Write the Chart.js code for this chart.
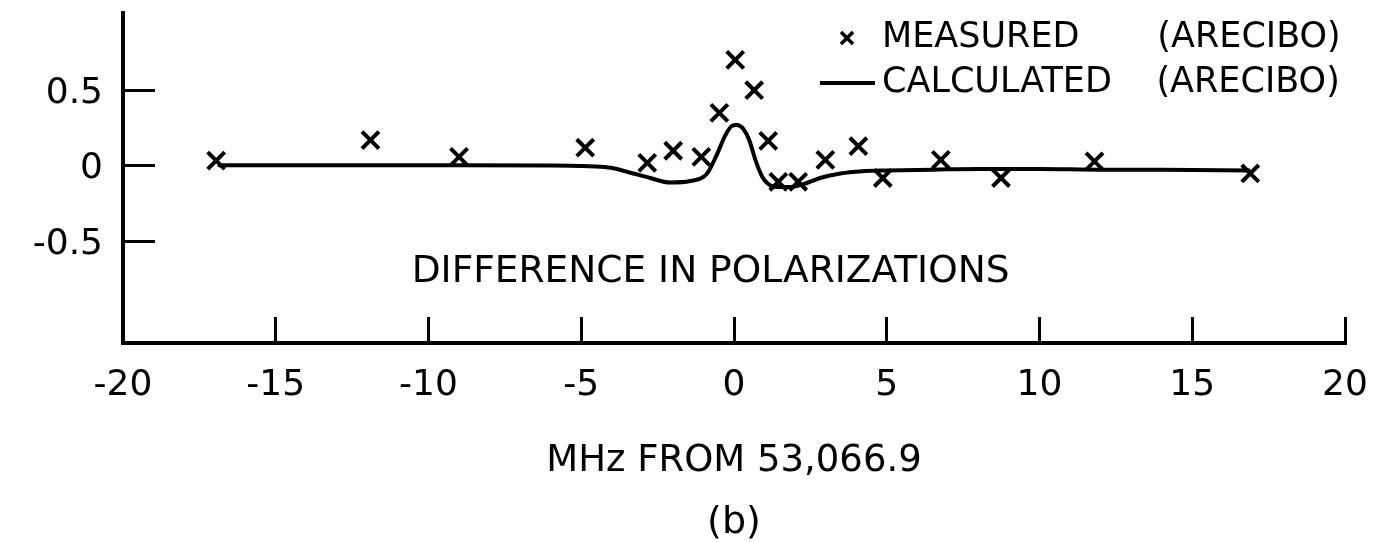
<!DOCTYPE html>
<html>
<head>
<meta charset="utf-8">
<script src="https://cdn.jsdelivr.net/npm/chart.js@4/dist/chart.umd.min.js"></script>
<style>
  html, body { margin: 0; padding: 0; background: #fff; }
  #wrap { width: 1377px; height: 542px; }
</style>
</head>
<body>
<div id="wrap"><canvas id="hello"></canvas></div>
<script>
// measured points (x marks)
const measuredX = [-16.95, -11.9, -9.0, -4.87, -2.84, -1.99, -1.07, -0.48, 0.04, 0.66, 1.12, 1.45, 2.1, 2.99, 4.07, 4.87, 6.77, 8.74, 11.8, 16.9];
const measuredY = [0.035, 0.17, 0.06, 0.12, 0.02, 0.10, 0.06, 0.35, 0.70, 0.50, 0.165, -0.105, -0.105, 0.04, 0.13, -0.08, 0.04, -0.08, 0.03, -0.05];

// calculated curve
const calcX = [-16.9, -14, -12, -9, -6, -5, -4.4, -3.95, -3.3, -2.74, -2.09, -1.43, -0.88, -0.55, -0.29, -0.06, 0.1, 0.3, 0.5, 0.7, 0.92, 1.12, 1.41, 1.84, 2.27, 2.82, 3.48, 4.2, 5, 6.5, 8, 10, 12, 14, 16.9];
const calcY = [0.005, 0.005, 0.005, 0.005, 0.003, 0, -0.005, -0.015, -0.05, -0.08, -0.11, -0.10, -0.05, 0.08, 0.20, 0.265, 0.27, 0.245, 0.17, 0.04, -0.07, -0.12, -0.14, -0.14, -0.12, -0.08, -0.05, -0.035, -0.03, -0.025, -0.02, -0.02, -0.025, -0.025, -0.03];

const xTicks = [-20, -15, -10, -5, 0, 5, 10, 15, 20];
const yTicks = [-0.5, 0, 0.5];

const seriesNames = ["MEASURED       (ARECIBO)", "CALCULATED    (ARECIBO)"];
const xTitle = "MHz FROM 53,066.9";
const figLabel = "(b)";
const noteText = "DIFFERENCE IN POLARIZATIONS";
const noteX = -10.55;
const noteY = -0.705;

const FONT = '"DejaVu Sans"';
Chart.defaults.font.family = FONT;
Chart.defaults.color = "#000";

// short line used as the legend swatch of the curve
const lineSwatch = document.createElement("canvas");
lineSwatch.width = 55;
lineSwatch.height = 4;
const sw = lineSwatch.getContext("2d");
sw.fillStyle = "#000";
sw.fillRect(0, 0, 55, 4);

const notePlugin = {
    id: "note",
    afterDatasetsDraw(chart) {
        const {ctx, scales: {x, y}} = chart;
        ctx.save();
        ctx.font = "37.5px " + FONT;
        ctx.fillStyle = "#000";
        ctx.textBaseline = "middle";
        ctx.fillText(noteText, x.getPixelForValue(noteX), y.getPixelForValue(noteY));
        ctx.restore();
    }
};

// put the legend at the top right of the plot
const legendSpot = {
    id: "legendSpot",
    afterLayout(chart) {
        const lg = chart.legend;
        const w = lg.width;
        lg.left = 819.5;
        lg.right = lg.left + w;
        lg.top = chart.chartArea.top - 2.5;
    }
};

const ctx = document.getElementById("hello").getContext("2d");
const chart = new Chart(ctx, {
    type: "scatter",
    data: {
        datasets: [{
            label: seriesNames[0],
            data: measuredX.map((v, i) => ({x: v, y: measuredY[i]})),
            pointStyle: "crossRot",
            pointRadius: 12,
            pointBorderWidth: 4,
            borderColor: "#000",
            backgroundColor: "#000",
            showLine: false
        }, {
            label: seriesNames[1],
            data: calcX.map((v, i) => ({x: v, y: calcY[i]})),
            showLine: true,
            cubicInterpolationMode: "monotone",
            borderWidth: 4,
            borderColor: "#000",
            backgroundColor: "#000",
            pointRadius: 0
        }]
    },
    options: {
        responsive: true,
        maintainAspectRatio: false,
        animation: false,
        layout: {autoPadding: false, padding: {top: 13, right: 32, left: 0, bottom: 0}},
        scales: {
            x: {
                type: "linear",
                min: -20,
                max: 20,
                afterBuildTicks: s => { s.ticks = xTicks.map(v => ({value: v})); },
                afterFit: s => {
                    s.height = 161;
                    s.paddingLeft = 0;
                    s.paddingRight = 0;
                },
                border: {display: true, color: "#000", width: 4},
                grid: {drawOnChartArea: false, tickLength: -26, lineWidth: 3, color: "#000"},
                ticks: {font: {size: 36}, padding: 47, maxRotation: 0, autoSkip: false},
                title: {display: true, text: xTitle, font: {size: 37}, padding: {top: 0, bottom: 20}}
            },
            y: {
                min: -1.17,
                max: 1.01,
                afterBuildTicks: s => { s.ticks = yTicks.map(v => ({value: v})); },
                afterFit: s => {
                    s.width = 123;
                    s.paddingTop = 0;
                    s.paddingBottom = 0;
                },
                border: {display: true, color: "#000", width: 4},
                grid: {drawOnChartArea: false, tickLength: -32, lineWidth: 3, color: "#000"},
                ticks: {font: {size: 36}, padding: 52, labelOffset: 3}
            }
        },
        plugins: {
            legend: {
                position: "chartArea",
                align: "start",
                labels: {
                    usePointStyle: true,
                    boxHeight: 12,
                    padding: 10,
                    font: {size: 35},
                    generateLabels(c) {
                        const items = Chart.defaults.plugins.legend.labels.generateLabels(c);
                        items[0].lineWidth = 3.5;
                        items[1].pointStyle = lineSwatch;
                        return items;
                    }
                }
            },
            title: {
                display: true,
                position: "bottom",
                fullSize: false,
                text: figLabel,
                font: {size: 38, weight: "normal", lineHeight: 1},
                padding: 0
            },
            tooltip: {enabled: false}
        }
    },
    plugins: [notePlugin, legendSpot]
});
</script>
</body>
</html>
